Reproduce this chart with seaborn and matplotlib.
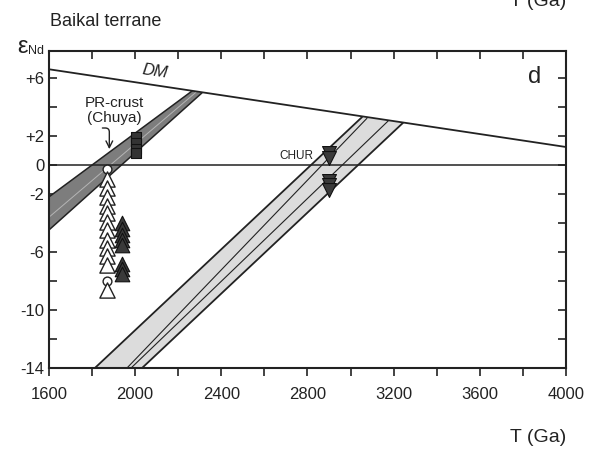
import matplotlib
matplotlib.use("Agg")
import matplotlib.pyplot as plt
import seaborn as sns
import pandas as pd
import numpy as np

# ---------------- data ----------------
dm_T = [1600, 4000]
dm_eps = [6.6, 1.24]

chur_T = [1600, 4000]
chur_eps = [0, 0]

# dark band (PR-crust, Chuya): upper and lower evolution lines
pr_upper_T = [1600, 2264]
pr_upper_eps = [-2.2, 5.10]
pr_lower_T = [1600, 2310]
pr_lower_eps = [-4.48, 4.97]
pr_inner_T = [1600, 2285]
pr_inner_eps = [-3.6, 5.05]

# light band (right)
lb_left_T = [1813, 3053]
lb_left_eps = [-14, 3.30]
lb_right_T = [2032, 3243]
lb_right_eps = [-14, 2.90]
lb_in1_T = [1962, 3076]
lb_in1_eps = [-14, 3.22]
lb_in2_T = [1981, 3174]
lb_in2_eps = [-14, 3.03]

open_tri_T = 1869
open_tri_eps = [-1.0, -1.6, -2.2, -2.8, -3.3, -3.9, -4.5, -5.2, -5.7, -6.3, -6.9, -8.6]
open_circ_eps = [-0.3, -8.0]

fill_tri_T = 1939
fill_tri_eps = [-4.0, -4.4, -4.8, -5.2, -5.5, -6.8, -7.2, -7.5]

square_T = 2004
square_eps = [1.9, 1.5, 1.1, 0.8]

down_tri_T = 2900
down_tri_eps = [0.8, 0.5, -1.1, -1.4, -1.7]

x_ticks = list(range(1600, 4001, 200))
x_labels = ["1600", "", "2000", "", "2400", "", "2800", "", "3200", "", "3600", "", "4000"]
y_ticks = [6, 4, 2, 0, -2, -4, -6, -8, -10, -12, -14]
y_labels = ["+6", "", "+2", "0", "-2", "", "-6", "", "-10", "", "-14"]

# ---------------- style ----------------
sns.set_theme(style="ticks")
plt.rcParams["font.family"] = ["Liberation Sans", "DejaVu Sans"]

fig = plt.figure(figsize=(6, 4.5), dpi=100)
ax = fig.add_axes([49 / 600, 1 - 368 / 450, (566 - 49) / 600, (368 - 51) / 450])

# light band
ax.fill(lb_left_T + lb_right_T[::-1], lb_left_eps + lb_right_eps[::-1],
        color="#dcdcdc", lw=0, zorder=1)
for T, e, lw in [(lb_left_T, lb_left_eps, 1.3), (lb_right_T, lb_right_eps, 1.3),
                 (lb_in1_T, lb_in1_eps, 0.8), (lb_in2_T, lb_in2_eps, 0.8)]:
    sns.lineplot(x=T, y=e, ax=ax, color="#222222", lw=lw, zorder=2, estimator=None, sort=False)

# dark band
ax.fill(pr_upper_T + pr_lower_T[::-1], pr_upper_eps + pr_lower_eps[::-1],
        color="#7d7d7d", lw=0, zorder=1)
for T, e, lw, c in [(pr_upper_T, pr_upper_eps, 1.1, "#222222"),
                    (pr_lower_T, pr_lower_eps, 1.1, "#222222"),
                    (pr_inner_T, pr_inner_eps, 0.7, "#b5b5b5")]:
    sns.lineplot(x=T, y=e, ax=ax, color=c, lw=lw, zorder=2, estimator=None, sort=False)

# DM and CHUR lines
sns.lineplot(x=dm_T, y=dm_eps, ax=ax, color="#222222", lw=1.3, zorder=3)
sns.lineplot(x=chur_T, y=chur_eps, ax=ax, color="#222222", lw=1.1, zorder=3)

# markers
sns.scatterplot(x=[open_tri_T] * len(open_circ_eps), y=open_circ_eps, ax=ax, marker="o",
                s=40, facecolor="white", edgecolor="#222222", linewidth=1.0, zorder=4)
sns.scatterplot(x=[open_tri_T] * len(open_tri_eps), y=open_tri_eps, ax=ax, marker="^",
                s=120, facecolor="white", edgecolor="#222222", linewidth=1.0, zorder=5)
sns.scatterplot(x=[fill_tri_T] * len(fill_tri_eps), y=fill_tri_eps, ax=ax, marker="^",
                s=110, color="#3a3a3a", edgecolor="#111111", linewidth=0.8, zorder=5)
sns.scatterplot(x=[square_T] * len(square_eps), y=square_eps, ax=ax, marker="s",
                s=60, color="#333333", edgecolor="#111111", linewidth=0.8, zorder=5)
sns.scatterplot(x=[down_tri_T] * len(down_tri_eps), y=down_tri_eps, ax=ax, marker="v",
                s=100, color="#3a3a3a", edgecolor="#111111", linewidth=0.8, zorder=5)

# axes
ax.set_xlim(1600, 4000)
ax.set_ylim(-14, 7.86)
ax.set_xticks(x_ticks)
ax.set_xticklabels(x_labels)
ax.set_yticks(y_ticks)
ax.set_yticklabels(y_labels)
ax.tick_params(axis="x", which="both", direction="out", length=6, width=1.2,
               labelsize=12, pad=8, top=True, colors="#222222")
ax.tick_params(axis="y", which="both", direction="in", length=6, width=1.2,
               labelsize=12, right=True, colors="#222222")
for t in ax.xaxis.get_major_ticks():
    t.tick2line.set_marker(matplotlib.lines.TICKDOWN)
for sp in ax.spines.values():
    sp.set_linewidth(1.5)
    sp.set_color("#222222")
ax.set_xlabel("")
ax.set_ylabel("")
ax.grid(False)

# texts
ax.text(3856, 6.1, "d", fontsize=17, color="#222222", ha="center", va="center")
ax.text(2092, 6.45, "DM", fontsize=12, style="italic", color="#222222",
        ha="center", va="center", rotation=-8.5)
ax.text(1902, 3.75, "PR-crust\n(Chuya)", fontsize=11, color="#222222",
        ha="center", va="center", linespacing=1.05)
ax.annotate("", xy=(1880, 0.9), xytext=(1835, 2.55),
            arrowprops=dict(arrowstyle="->", color="#222222", lw=1.0,
                            connectionstyle="angle,angleA=0,angleB=-90,rad=4"))
ax.text(2825, 0.6, "CHUR", fontsize=8.5, color="#222222", ha="right", va="center")

fig.text(50 / 600, 1 - 22 / 450, "Baikal terrane", fontsize=13, color="#222222",
         ha="left", va="center")
fig.text(22 / 600, 1 - 47 / 450, "ε", fontsize=17, color="#222222", ha="center", va="center")
fig.text(28 / 600, 1 - 51 / 450, "Nd", fontsize=9, color="#222222", ha="left", va="center")
fig.text(566 / 600, 1 - 437 / 450, "T (Ga)", fontsize=14, color="#222222", ha="right", va="center")
fig.text(566 / 600, 1 - 1 / 450, "T (Ga)", fontsize=14, color="#222222", ha="right", va="center")

fig.savefig("out.png", dpi=100, facecolor="white")
